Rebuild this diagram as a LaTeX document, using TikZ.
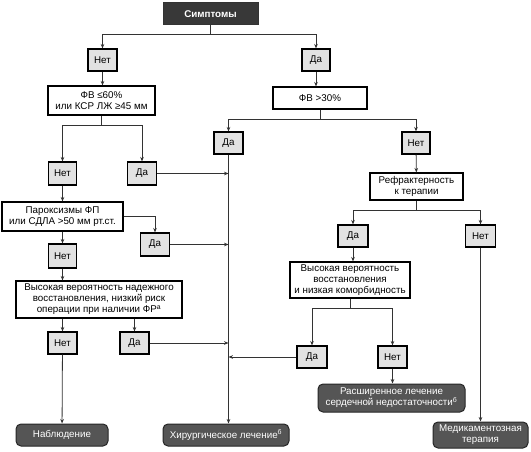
\documentclass[tikz,border=0pt]{standalone}
\usepackage{fontspec}
\setmainfont{Liberation Sans}
\usetikzlibrary{arrows.meta}
\definecolor{boxgray}{HTML}{E2E2E2}
\definecolor{termgray}{HTML}{555555}
\definecolor{linegray}{HTML}{333333}
\begin{document}
\begin{tikzpicture}[x=1pt,y=-1pt,
  every node/.style={font=\fontsize{9.8}{11}\selectfont, inner sep=0pt, align=center},
  sbox/.style={draw=black, line width=1.1pt, fill=boxgray, minimum width=29pt, minimum height=22pt},
  qbox/.style={draw=black, line width=1.1pt, fill=white},
  term/.style={draw=black!85, line width=1pt, fill=termgray, text=white, rounded corners=5pt},
  topbox/.style={draw=black!80, line width=1pt, fill=black!78, text=white, font=\fontsize{9.8}{11}\selectfont\bfseries},
  conn/.style={draw=linegray, line width=0.8pt, -{Stealth[length=4.5pt,width=3.6pt]}},
  seg/.style={draw=linegray, line width=0.8pt}]
\useasboundingbox (0,0) rectangle (531,452);
% nodes
\node[topbox, minimum width=95pt, minimum height=22pt] (sym) at (210.5,14) {Симптомы};
\node[sbox] (n1) at (102.5,60) {Нет};
\node[sbox, minimum width=28pt] (d1) at (316,60) {Да};
\node[qbox, minimum width=107pt, minimum height=29pt] (q1) at (101.5,100.5) {ФВ ≤60\%\\или КСР ЛЖ ≥45 мм};
\node[qbox, minimum width=94pt, minimum height=22pt] (q2) at (320,98) {ФВ >30\%};
\node[sbox, minimum width=28pt, minimum height=23pt] (n2) at (62.5,173.5) {Нет};
\node[sbox, minimum height=23pt] (d2) at (142,173.5) {Да};
\node[sbox] (d3) at (228.5,143) {Да};
\node[sbox, minimum width=28pt] (n3) at (416,143) {Нет};
\node[qbox, minimum width=121pt, minimum height=29pt] (q3) at (62.5,216.5) {Пароксизмы ФП\\или СДЛА >50 мм рт.ст.};
\node[sbox, minimum height=23pt] (d4) at (155,244.5) {Да};
\node[sbox, minimum width=28pt, minimum height=24pt] (n4) at (62.5,256) {Нет};
\node[qbox, minimum width=166pt, minimum height=37pt] (q4) at (99,299.5) {Высокая вероятность надежного\\восстановления, низкий риск\\операции при наличии ФР\textsuperscript{а}};
\node[sbox] (n5) at (62.5,343) {Нет};
\node[sbox] (d5) at (134.5,343) {Да};
\node[qbox, minimum width=93pt, minimum height=27pt] (q5) at (416.5,186.5) {Рефрактерность\\к терапии};
\node[sbox, minimum width=30pt] (d6) at (353,236) {Да};
\node[sbox, minimum width=30pt] (n6) at (480.5,236) {Нет};
\node[qbox, minimum width=120pt, minimum height=36pt] (q6) at (350,280) {Высокая вероятность\\восстановления\\и низкая коморбидность};
\node[sbox, minimum width=30pt] (d7) at (312,357) {Да};
\node[sbox] (n7) at (392.5,357) {Нет};
\node[term, minimum width=92pt, minimum height=22pt] (t1) at (62,435) {Наблюдение};
\node[term, minimum width=126pt, minimum height=22pt] (t2) at (226,435) {Хирургическое лечение\textsuperscript{б}};
\node[term, minimum width=147pt, minimum height=28pt] (t3) at (391.5,398) {Расширенное лечение\\сердечной недостаточности\textsuperscript{б}};
\node[term, minimum width=95pt, minimum height=26pt] (t4) at (480.5,435) {Медикаментозная\\терапия};
% junctions
\coordinate (j1) at (210.5,34);
\coordinate (j2) at (101.5,125);
\coordinate (j3) at (320,119);
\coordinate (j4) at (416.5,210);
\coordinate (j5) at (350,308);
% connectors
\draw[seg] (sym) -- (j1);
\draw[conn] (j1) -| (n1);
\draw[conn] (j1) -| (d1);
\draw[conn] (n1) -- (n1 |- q1.north);
\draw[conn] (d1) -- (d1 |- q2.north);
\draw[seg] (q1) -- (j2);
\draw[conn] (j2) -| (n2);
\draw[conn] (j2) -| (d2);
\draw[seg] (q2) -- (j3);
\draw[conn] (j3) -| (d3);
\draw[conn] (j3) -| (n3);
\draw[conn] (n2) -- (n2 |- q3.north);
\draw[conn] (q3.east) -| (d4);
\draw[conn] (q3) -- (n4);
\draw[conn] (n4) -- (n4 |- q4.north);
\draw[conn] (q4.south -| n5) -- (n5);
\draw[conn] (q4.south -| d5) -- (d5);
\draw[conn] (n5) -- (t1);
\draw[conn] (d3) -- (d3 |- t2.north);
\draw[conn] (d2) -- (d2 -| d3);
\draw[conn] (d4) -- (d4 -| d3);
\draw[conn] (d5) -- (d5 -| d3);
\draw[conn] (d7) -- (d7 -| d3);
\draw[conn] (n3) -- (q5);
\draw[seg] (q5) -- (j4);
\draw[conn] (j4) -| (d6);
\draw[conn] (j4) -| (n6);
\draw[conn] (d6) -- (d6 |- q6.north);
\draw[seg] (q6) -- (j5);
\draw[conn] (j5) -| (d7);
\draw[conn] (j5) -| (n7);
\draw[conn] (n7) -- (n7 |- t3.north);
\draw[conn] (n6) -- (t4);
\end{tikzpicture}
\end{document}
